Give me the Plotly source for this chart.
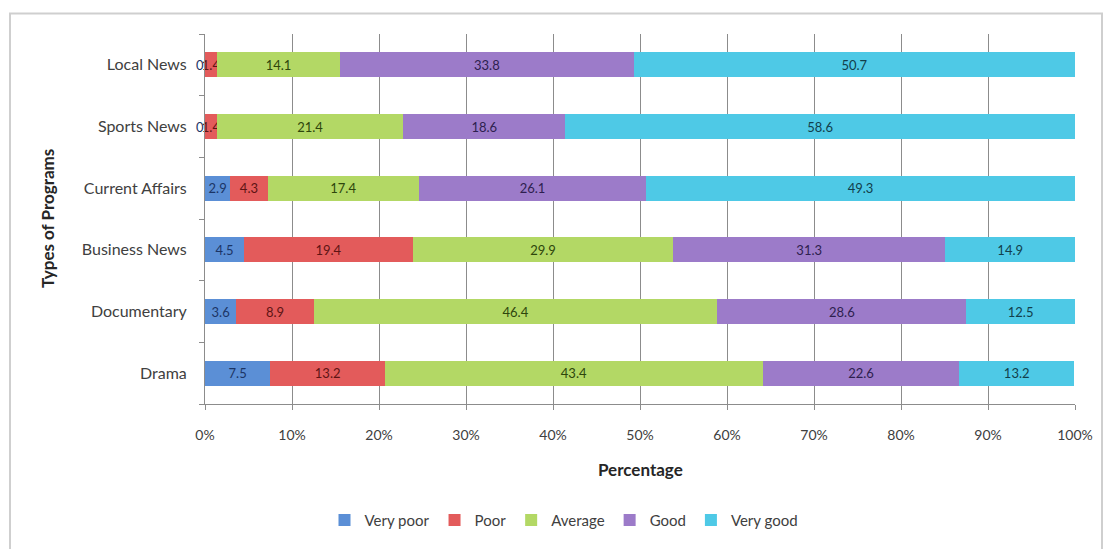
import plotly.graph_objects as go

# Program types, listed bottom to top
programs = ["Drama", "Documentary", "Business News", "Current Affairs", "Sports News", "Local News"]

# Rating shares (%) per program type
very_poor = [7.5, 3.6, 4.5, 2.9, 0, 0]
poor = [13.2, 8.9, 19.4, 4.3, 1.4, 1.4]
average = [43.4, 46.4, 29.9, 17.4, 21.4, 14.1]
good = [22.6, 28.6, 31.3, 26.1, 18.6, 33.8]
very_good = [13.2, 12.5, 14.9, 49.3, 58.6, 50.7]

x_ticks = list(range(0, 101, 10))

series = [
    ("Very poor", very_poor, "#5B8FD6", "#1B3566"),
    ("Poor", poor, "#E35B5B", "#5E1414"),
    ("Average", average, "#B3D865", "#2E460C"),
    ("Good", good, "#9C7BC9", "#2E1F4F"),
    ("Very good", very_good, "#4EC9E6", "#123F4C"),
]

FONT = "Lato"

fig = go.Figure()
zero_notes = []
base = [0.0] * len(programs)
for name, vals, color, txt in series:
    fig.add_trace(go.Bar(
        y=programs,
        x=vals,
        name=name,
        orientation="h",
        marker=dict(color=color, line=dict(width=0)),
        text=[f"{v:g}" for v in vals],
        textposition="inside",
        insidetextanchor="middle",
        textangle=0,
        constraintext="none",
        cliponaxis=False,
        textfont=dict(family=FONT, size=13, color=txt),
    ))
    # zero-width segments still carry their "0" value label, set just left of the segment
    for i, v in enumerate(vals):
        if v == 0:
            zero_notes.append(dict(
                x=base[i], y=programs[i], xref="x", yref="y",
                text="0", showarrow=False, xanchor="right", xshift=1,
                font=dict(family=FONT, size=13, color=txt),
            ))
        base[i] += v

# plot area pixel geometry
L, R, T, B = 205, 1075, 34, 413
W, H = R - L, B - T

def px(x):
    return (x - L) / W

def py(y):
    return (B - y) / H

fig.update_layout(
    barmode="stack",
    bargap=0.59,
    width=1109,
    height=549,
    margin=dict(l=L, r=1109 - R, t=T, b=549 - B),
    paper_bgcolor="white",
    plot_bgcolor="white",
    font=dict(family=FONT, color="#404040"),
    uniformtext=dict(minsize=13, mode="show"),
    xaxis=dict(
        range=[0, 100],
        tickvals=x_ticks,
        ticktext=[f"{t}%" for t in x_ticks],
        showgrid=True,
        gridcolor="#8C8C8C",
        gridwidth=1,
        showline=True,
        linecolor="#8C8C8C",
        linewidth=1,
        ticks="outside",
        ticklen=5,
        tickcolor="#8C8C8C",
        tickfont=dict(size=14, color="#404040"),
        ticklabelstandoff=13,
        zeroline=False,
        fixedrange=True,
    ),
    yaxis=dict(
        categoryorder="array",
        categoryarray=programs,
        showline=True,
        linecolor="#8C8C8C",
        linewidth=1,
        ticks="outside",
        tickson="boundaries",
        ticklen=5,
        tickcolor="#8C8C8C",
        tickfont=dict(size=16, color="#404040"),
        ticklabelstandoff=14,
        showgrid=False,
        fixedrange=True,
    ),
    legend=dict(
        orientation="h",
        x=px(564),
        xanchor="center",
        y=py(532),
        yanchor="middle",
        font=dict(size=15, color="#404040"),
        itemwidth=30,
        traceorder="normal",
    ),
    annotations=zero_notes + [
        dict(text="<b>Percentage</b>", xref="paper", yref="paper",
             x=0.5, y=py(480), xanchor="center", yanchor="middle",
             showarrow=False, font=dict(size=17, color="#262626")),
        dict(text="<b>Types of Programs</b>", xref="paper", yref="paper",
             x=px(47), y=0.5, xanchor="center", yanchor="middle", textangle=-90,
             showarrow=False, font=dict(size=17, color="#262626")),
    ],
    shapes=[
        dict(type="rect", xref="paper", yref="paper",
             x0=px(10), x1=px(1102), y0=py(570), y1=py(13),
             line=dict(color="#CFCFCF", width=2), fillcolor="rgba(0,0,0,0)",
             layer="below"),
    ],
)

fig.write_html("out.html")
